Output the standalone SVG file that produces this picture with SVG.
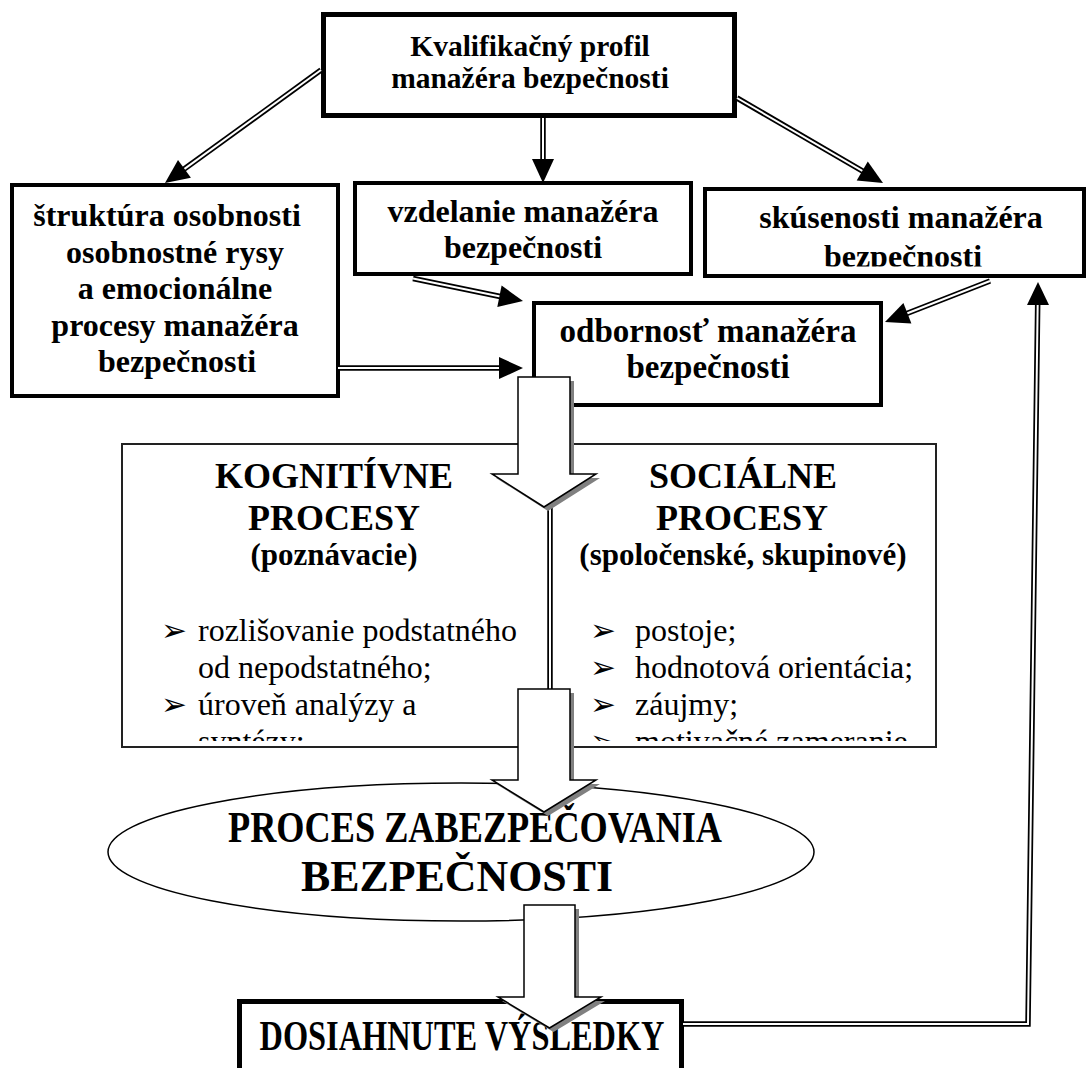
<svg xmlns="http://www.w3.org/2000/svg" width="1088" height="1068" viewBox="0 0 1088 1068">
  <style>
    .box { fill: #fff; stroke: #000; }
    .thick { stroke-width: 5; }
    .mid { stroke-width: 4; }
    .thin { stroke: #222; stroke-width: 2; }
    .tb { font-family: "Liberation Serif", "Times New Roman", serif; font-weight: bold; text-anchor: middle; fill: #000; }
    .tr { font-family: "Liberation Serif", "Times New Roman", serif; font-weight: normal; fill: #000; }
    .bul { font-family: "DejaVu Sans", sans-serif; font-size: 31px; fill: #000; }
    .dl-o { fill: none; stroke: #000; stroke-width: 5.5; stroke-linejoin: miter; }
    .dl-i { fill: none; stroke: #fff; stroke-width: 2; stroke-linejoin: miter; }
    .head { fill: #000; }
    .blk { fill: #fff; stroke: #000; stroke-width: 1.5; stroke-linejoin: miter; }
    .shd { fill: #808080; }
  </style>
  <defs>
    <clipPath id="clip-skus"><rect x="705" y="189" width="379" height="77.5"/></clipPath>
    <clipPath id="clip-procesy"><rect x="122" y="444" width="814" height="297"/></clipPath>
  </defs>

  <rect width="1088" height="1068" fill="#fff"/>

  <!-- top node -->
  <g id="n-kvalifikacny">
    <rect class="box thick" x="323.5" y="14.5" width="411" height="101"/>
    <text class="tb" font-size="29.5" x="530" y="56">Kvalifikačný profil</text>
    <text class="tb" font-size="29.5" x="530" y="88">manažéra bezpečnosti</text>
  </g>

  <!-- personality -->
  <g id="n-struktura">
    <rect class="box mid" x="12" y="185" width="326" height="211"/>
    <text class="tb" font-size="32" x="167" y="226">štruktúra osobnosti</text>
    <text class="tb" font-size="32" x="175" y="262.5">osobnostné rysy</text>
    <text class="tb" font-size="32" x="175" y="299">a emocionálne</text>
    <text class="tb" font-size="32" x="175" y="335.5">procesy manažéra</text>
    <text class="tb" font-size="32" x="177" y="372">bezpečnosti</text>
  </g>

  <!-- education -->
  <g id="n-vzdelanie">
    <rect class="box mid" x="355" y="183" width="336" height="91"/>
    <text class="tb" font-size="32" x="523" y="222">vzdelanie manažéra</text>
    <text class="tb" font-size="32" x="523" y="258">bezpečnosti</text>
  </g>

  <!-- experience -->
  <g id="n-skusenosti">
    <rect class="box mid" x="705" y="189" width="379" height="87"/>
    <g clip-path="url(#clip-skus)">
      <text class="tb" font-size="32" x="901" y="228">skúsenosti manažéra</text>
      <text class="tb" font-size="32" x="903" y="267">bezpečnosti</text>
    </g>
  </g>

  <!-- expertise -->
  <g id="n-odbornost">
    <rect class="box mid" x="534" y="303" width="347" height="102"/>
    <text class="tb" font-size="33" x="708" y="342">odbornosť manažéra</text>
    <text class="tb" font-size="33" x="708" y="378">bezpečnosti</text>
  </g>

  <!-- cognitive and social processes -->
  <g id="n-procesy">
    <rect class="box thin" x="122" y="444" width="814" height="303"/>
    <g clip-path="url(#clip-procesy)">
      <text class="tb" font-size="36" x="334" y="488">KOGNITÍVNE</text>
      <text class="tb" font-size="36" x="334" y="530">PROCESY</text>
      <text class="tb" font-size="31" x="334" y="565">(poznávacie)</text>
      <text class="bul" x="161" y="641">➢</text>
      <text class="tr" font-size="32" x="198" y="641">rozlišovanie podstatného</text>
      <text class="tr" font-size="32" x="198" y="678">od nepodstatného;</text>
      <text class="bul" x="161" y="715">➢</text>
      <text class="tr" font-size="32" x="198" y="715">úroveň analýzy a</text>
      <text class="tr" font-size="32" x="198" y="752">syntézy;</text>

      <text class="tb" font-size="36" x="743" y="488">SOCIÁLNE</text>
      <text class="tb" font-size="36" x="742" y="530">PROCESY</text>
      <text class="tb" font-size="31" x="743" y="565">(spoločenské, skupinové)</text>
      <text class="bul" x="590" y="641">➢</text>
      <text class="tr" font-size="32" x="635" y="641">postoje;</text>
      <text class="bul" x="590" y="678">➢</text>
      <text class="tr" font-size="32" x="635" y="678">hodnotová orientácia;</text>
      <text class="bul" x="590" y="715">➢</text>
      <text class="tr" font-size="32" x="635" y="715">záujmy;</text>
      <text class="bul" x="590" y="752">➢</text>
      <text class="tr" font-size="32" x="635" y="752">motivačné zameranie</text>
    </g>
  </g>

  <!-- security process -->
  <g id="n-proces">
    <ellipse cx="461" cy="852" rx="353" ry="69" fill="#fff" stroke="#000" stroke-width="1.5"/>
    <text class="tb" font-size="44" x="475" y="842" textLength="494" lengthAdjust="spacingAndGlyphs">PROCES ZABEZPEČOVANIA</text>
    <text class="tb" font-size="44" x="457" y="891" textLength="312" lengthAdjust="spacingAndGlyphs">BEZPEČNOSTI</text>
  </g>

  <!-- results -->
  <g id="n-vysledky">
    <rect class="box thick" x="239.5" y="1001.5" width="442" height="72"/>
    <text class="tb" font-size="42" x="462" y="1050" textLength="405" lengthAdjust="spacingAndGlyphs">DOSIAHNUTE VÝSLEDKY</text>
  </g>

  <g id="connectors">
    <!-- double-line arrows -->
    <g id="c-profil-struktura">
      <path class="dl-o" d="M321 70 L182.8 170.1"/>
      <path class="dl-i" d="M321 70 L182.8 170.1"/>
      <polygon class="head" points="165,183 178,160 190.9,177.8"/>
    </g>
    <g id="c-profil-vzdelanie">
      <path class="dl-o" d="M543 118 V161"/>
      <path class="dl-i" d="M543 118 V161"/>
      <polygon class="head" points="543,183 532,159 554,159"/>
    </g>
    <g id="c-profil-skusenosti">
      <path class="dl-o" d="M737 98 L864 171.9"/>
      <path class="dl-i" d="M737 98 L864 171.9"/>
      <polygon class="head" points="883,183 856.7,180.4 867.8,161.4"/>
    </g>
    <g id="c-vzdelanie-odbornost">
      <path class="dl-o" d="M413 278.5 L501.4 296.7"/>
      <path class="dl-i" d="M413 278.5 L501.4 296.7"/>
      <polygon class="head" points="523,301 497.3,307.1 501.6,285.5"/>
    </g>
    <g id="c-struktura-odbornost">
      <path class="dl-o" d="M338 368 H501"/>
      <path class="dl-i" d="M338 368 H501"/>
      <polygon class="head" points="523,368 499,357 499,379"/>
    </g>
    <g id="c-skusenosti-odbornost">
      <path class="dl-o" d="M990 281 L905.5 314"/>
      <path class="dl-i" d="M990 281 L905.5 314"/>
      <polygon class="head" points="885,322 903.4,303 911.4,323.5"/>
    </g>
    <g id="c-vysledky-skusenosti">
      <path class="dl-o" d="M683 1024 H1028 L1037.7 303"/>
      <path class="dl-i" d="M683 1024 H1028 L1037.7 303"/>
      <polygon class="head" points="1038,282 1049,305 1027,305"/>
    </g>
    <g id="c-link-procesy">
      <path class="dl-o" d="M550 505 V690"/>
      <path class="dl-i" d="M550 505 V690"/>
    </g>

    <!-- block arrows with drop shadow -->
    <g id="b-odbornost-procesy">
      <polygon class="shd" transform="translate(4 4)" points="518,377 570,377 570,474 596,474 544,507 492,474 518,474"/>
      <polygon class="blk" points="518,377 570,377 570,474 596,474 544,507 492,474 518,474"/>
    </g>
    <g id="b-procesy-proces">
      <polygon class="shd" transform="translate(4 4)" points="518,689 570,689 570,780 596,780 544,812 492,780 518,780"/>
      <polygon class="blk" points="518,689 570,689 570,780 596,780 544,812 492,780 518,780"/>
    </g>
    <g id="b-proces-vysledky">
      <polygon class="shd" transform="translate(4 4)" points="524,905 575,905 575,997 601,997 549.5,1028 498,997 524,997"/>
      <polygon class="blk" points="524,905 575,905 575,997 601,997 549.5,1028 498,997 524,997"/>
    </g>
  </g>
</svg>
